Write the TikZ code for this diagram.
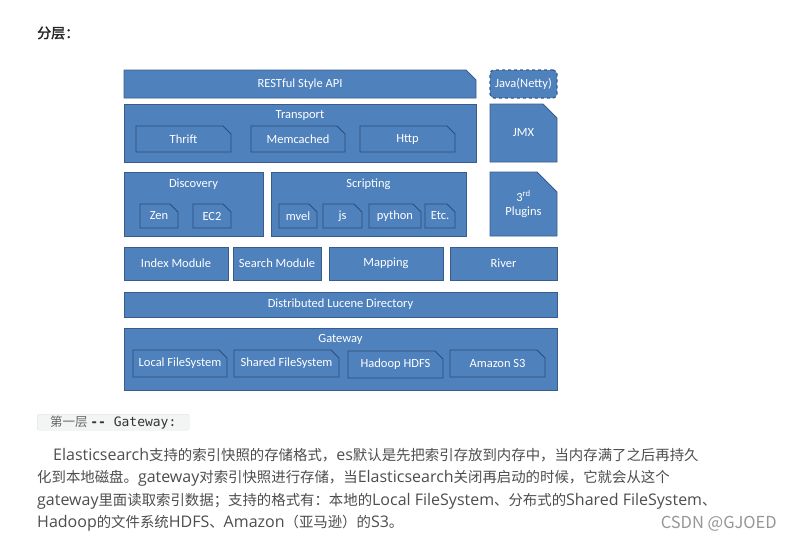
\documentclass[tikz,border=0pt]{standalone}
\usepackage{fontspec}
\setmainfont{Carlito}
\setmonofont{DejaVu Sans Mono}
\newfontfamily\cjk{Noto Sans CJK SC}
\newfontfamily\cjkbf[FakeBold=2]{Noto Sans CJK SC}
\newfontfamily\latfont{Open Sans}
\newcommand\enw[1]{{\latfont\fontsize{16}{17}\selectfont #1}}
\usepackage{tikz}
\usetikzlibrary{shapes.misc, positioning}
\definecolor{esblue}{RGB}{79,129,189}
\definecolor{esedge}{RGB}{56,93,138}
\definecolor{subedge}{RGB}{44,77,120}
\definecolor{bodytext}{RGB}{77,77,77}
\definecolor{codebg}{RGB}{243,244,244}
\definecolor{codeedge}{RGB}{222,224,226}
\definecolor{mark}{RGB}{150,150,150}

\begin{document}
\begin{tikzpicture}[x=1pt, y=-1pt,
  blk/.style={rectangle, draw=esedge, fill=esblue, line width=0.9pt, text=white,
              font=\fontsize{12.5}{14}\selectfont, inner sep=0pt, outer sep=0pt,
              anchor=north west, align=center},
  snip/.style={blk, chamfered rectangle, chamfered rectangle corners=north east,
               chamfered rectangle sep=#1},
  snip/.default=4pt,
  sub/.style={snip, draw=subedge, minimum height=#1},
  sub/.default=24pt,
  ttl/.style={text=white, font=\fontsize{12.5}{14}\selectfont, inner sep=0pt, anchor=north},
  para/.style={anchor=base west, inner sep=0pt, text=bodytext, font=\cjk\fontsize{14.4}{17}\selectfont}
]
  \useasboundingbox (0,0) rectangle (792,541);

  \node[anchor=west, inner sep=0pt, font=\cjkbf\fontsize{14}{16}\selectfont, text=black!85] (head) at (37,33) {分层：};

  % top rows
  \node[snip=5pt, minimum width=352pt, minimum height=28pt] (rest) at (124,70) {RESTful Style API};
  \node[blk, rounded corners=4pt, dashed, line width=1.3pt, minimum width=67pt, minimum height=28pt] (java) at (490,70) {Java(Netty)};

  \node[blk, minimum width=352pt, minimum height=58pt] (trans) at (124,104) {};
  \node[ttl, below=6.5pt of trans.north] (transT) {Transport};
  \node[sub=26pt, minimum width=95pt] (thrift) at (136,126) {Thrift};
  \node[sub=26pt, minimum width=94pt, right=20pt of thrift] (memc) {Memcached};
  \node[sub=26pt, minimum width=95pt, right=15pt of memc] (http) {Http};
  \node[snip=10pt, minimum width=67pt, minimum height=58pt] (jmx) at (490,104) {JMX};

  % discovery / scripting
  \node[blk, minimum width=139pt, minimum height=64pt] (disc) at (124,172) {};
  \node[ttl, below=6.5pt of disc.north] (discT) {Discovery};
  \node[sub, minimum width=38pt] (zen) at (140,204) {Zen};
  \node[sub, minimum width=38pt, right=15pt of zen] (ec2) {EC2};

  \node[blk, minimum width=195pt, minimum height=64pt] (script) at (271,172) {};
  \node[ttl, below=6.5pt of script.north] (scriptT) {Scripting};
  \node[sub, minimum width=38pt] (mvel) at (279,204) {mvel};
  \node[sub, minimum width=39pt, right=6pt of mvel] (js) {js};
  \node[sub, minimum width=52pt, right=7pt of js] (python) {python};
  \node[sub, minimum width=30pt, right=4pt of python] (etc) {Etc.};
  \node[snip=10pt, minimum width=67pt, minimum height=64pt] (plug) at (490,172) {3\textsuperscript{rd}\\Plugins};

  % modules
  \node[blk, minimum width=104pt, minimum height=33pt] (index) at (124,247) {Index Module};
  \node[blk, minimum width=88pt, minimum height=33pt, right=5pt of index] (search) {Search Module};
  \node[blk, minimum width=114pt, minimum height=33pt, right=8pt of search] (mapping) {Mapping};
  \node[blk, minimum width=107pt, minimum height=33pt, right=7pt of mapping] (river) {River};

  \node[blk, minimum width=433pt, minimum height=25pt] (dld) at (124,292) {Distributed Lucene Directory};

  % gateway
  \node[blk, minimum width=433pt, minimum height=62pt] (gate) at (124,328) {};
  \node[ttl, below=6.5pt of gate.north] (gateT) {Gateway};
  \node[sub=27pt, minimum width=94pt] (lfs) at (133,350) {Local FileSystem};
  \node[sub=27pt, minimum width=105pt, right=7pt of lfs] (sfs) {Shared FileSystem};
  \node[sub=27pt, minimum width=95pt] (hdfs) at (348,351) {Hadoop HDFS};
  \node[sub=27pt, minimum width=95pt] (s3) at (450,350) {Amazon S3};

  % text below
  \node[anchor=north west, fill=codebg, draw=codeedge, rounded corners=1.5pt, inner xsep=3pt, inner ysep=1pt,
        minimum width=152pt, minimum height=16pt] (code) at (37,414)
    {\color{black!60}\cjk\fontsize{12.5}{14}\selectfont 第一层\ \color{black!80}\ttfamily\fontsize{13}{14}\selectfont\textbf{--} Gateway:};

  \node[para] (l1) at (53,460) {\enw{Elasticsearch}支持的索引快照的存储格式，\enw{es}默认是先把索引存放到内存中，当内存满了之后再持久};
  \node[para] (l2) at (37,482) {化到本地磁盘。\enw{gateway}对索引快照进行存储，当\enw{Elasticsearch}关闭再启动的时候，它就会从这个};
  \node[para] (l3) at (37,505) {\enw{gateway}里面读取索引数据；支持的格式有：本地的\enw{Local FileSystem}、分布式的\enw{Shared FileSystem}、};
  \node[para] (l4) at (37,527) {\enw{Hadoop}的文件系统\enw{HDFS}、\enw{Amazon}（亚马逊）的\enw{S3}。};
  \node[anchor=base east, inner sep=0pt, text=mark, font=\cjk\fontsize{16.5}{19}\selectfont] (csdn) at (777,528) {CSDN @GJOED};
\end{tikzpicture}
\end{document}
